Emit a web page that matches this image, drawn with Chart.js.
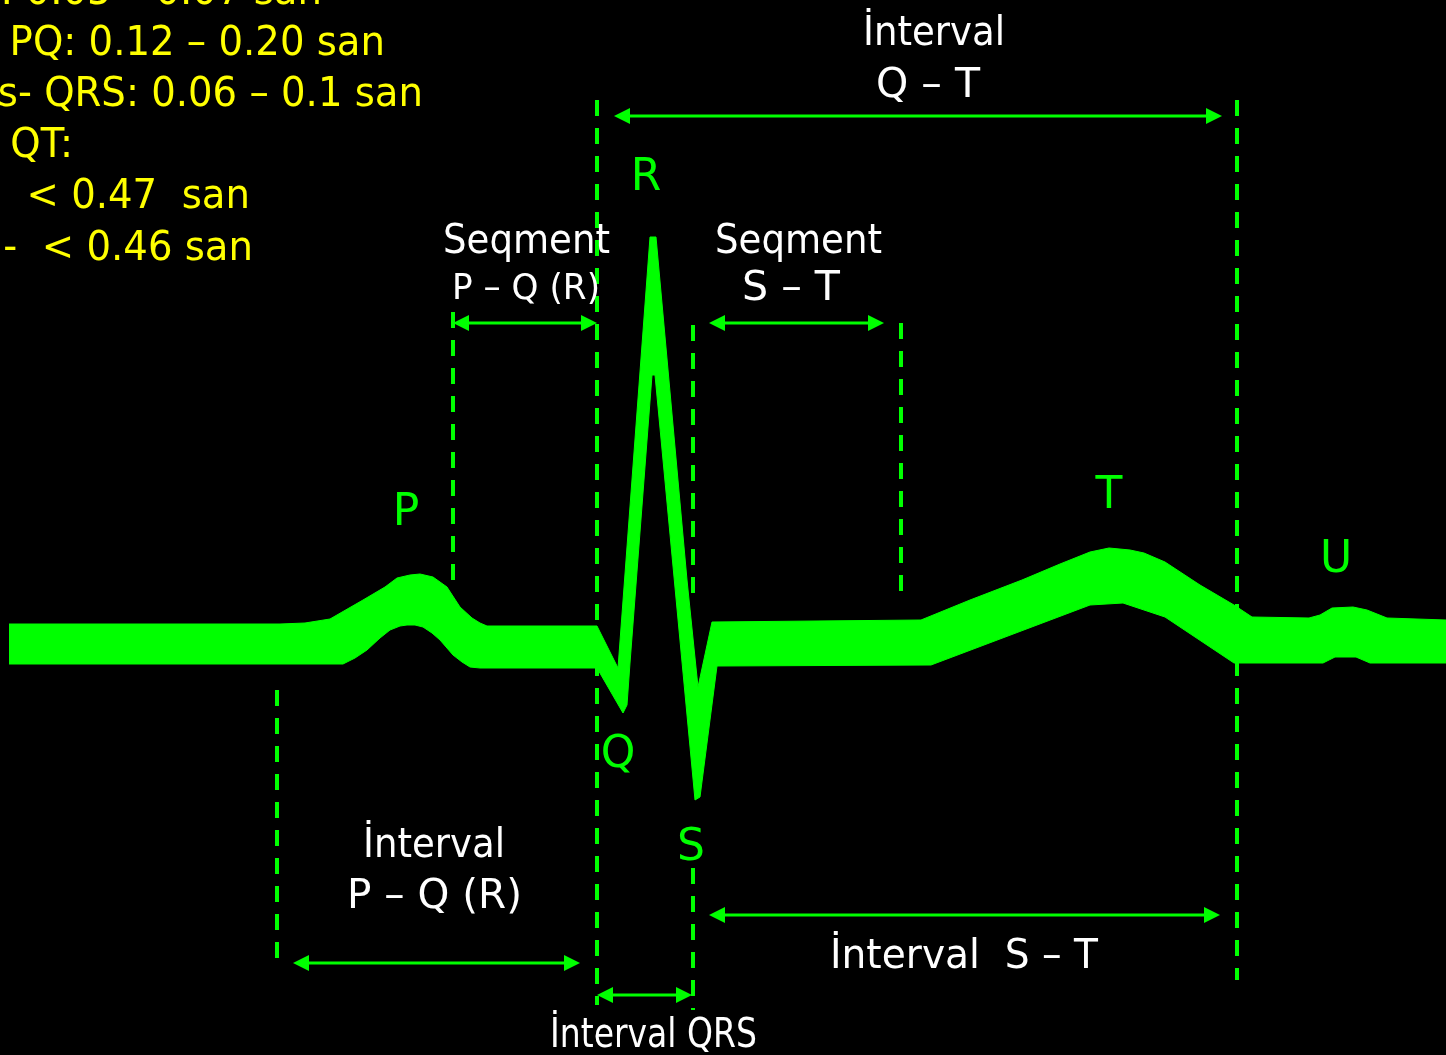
<!DOCTYPE html>
<html lang="az">
<head>
  <meta charset="UTF-8">
  <title>EKQ: dişlər, seqmentlər, intervallar</title>
  <script src="https://cdn.jsdelivr.net/npm/chart.js"></script>
  <style>
    html, body {
      margin: 0;
      padding: 0;
      background: #000;
      overflow: hidden;
    }

    canvas {
      display: block;
    }
  </style>
</head>

<body>
  <canvas id="ecg" width="1446" height="1055"></canvas>

  <script>
    // ECG trace is a thick band: its upper and lower outline (time units, depth units)
    const upperX = [9, 280, 305, 330, 363, 385, 397, 410, 420, 433, 447, 460, 472, 480, 487, 597, 618, 650, 656, 687, 698, 712,
      921, 970, 1022, 1060, 1090, 1109, 1130, 1144, 1165, 1200, 1234, 1252, 1309, 1320, 1332, 1353, 1367, 1387, 1446];
    const upperY = [624, 624, 623, 619, 600, 587, 578, 575, 574, 577, 587, 607, 618, 623, 626, 626, 668, 237, 237, 580, 687, 622,
      620, 600, 580, 564, 552, 548, 550, 553, 562, 585, 605, 617, 618, 615, 608, 607, 610, 618, 620];
    const lowerX = [9, 280, 343, 355, 367, 380, 390, 400, 407, 415, 423, 432, 440, 453, 462, 470, 480, 597, 623, 627, 630, 652, 655,
      695, 700, 717, 931, 1090, 1123, 1165, 1234, 1323, 1335, 1356, 1370, 1446];
    const lowerY = [664, 664, 664, 658, 650, 638, 630, 626, 625, 625, 627, 633, 640, 655, 662, 667, 668, 668, 713, 705, 663, 375, 375,
      800, 797, 666, 665, 605, 603, 617, 663, 663, 657, 657, 663, 663];

    // dashed boundaries of the waves
    const guideX = [277, 453, 597, 693, 693, 901, 1237];
    const guideFrom = [690, 312, 100, 325, 868, 323, 100];
    const guideTo = [970, 590, 1005, 602, 1010, 603, 980];

    // double arrows for the intervals / segments
    const arrowY = [116, 323, 323, 963, 915, 995];
    const arrowFrom = [614, 453, 709, 293, 709, 597];
    const arrowTo = [1222, 597, 884, 580, 1220, 692];

    // wave names
    const waveNames = ['P', 'Q', 'R', 'S', 'T', 'U'];
    const waveX = [406, 618, 646, 691, 1109, 1336];
    const waveY = [525, 767, 190, 860, 508, 572];

    // white captions (left edge, baseline, width)
    const captions = ['İnterval', 'Q – T', 'Seqment', 'P – Q (R)', 'Seqment', 'S – T', 'İnterval', 'P – Q (R)', 'İnterval  S – T', 'İnterval QRS'];
    const captionX = [863, 876, 443, 452, 715, 742, 363, 347, 830, 550];
    const captionY = [45, 97, 253, 299, 253, 300, 857, 908, 968, 1047];
    const captionW = [142, 104, 167, 148, 167, 98, 142, 175, 268, 207];
    const captionSize = [41, 41, 41, 36, 41, 41, 41, 41, 41, 41];

    // yellow norms, top left (right edge, baseline)
    const norms = ['P: 0.05 – 0.07 san', 'PQ: 0.12 – 0.20 san', 's- QRS: 0.06 – 0.1 san', 'QT:', '< 0.47  san', 'n-  < 0.46 san'];
    const normRight = [322, 385, 423, 73, 250, 253];
    const normY = [4, 55, 106, 157, 208, 260];

    const GREEN = '#00ff00';
    const FONT = '"DejaVu Sans", Verdana, sans-serif';

    const toPts = (xs, ys) => xs.map((x, i) => ({ x: x, y: ys[i] }));

    function squeezed(ctx, str, px, py, size, k, align) {
      ctx.font = size + 'px ' + FONT;
      ctx.save();
      ctx.translate(px, py);
      ctx.scale(k, 1);
      ctx.textAlign = align;
      ctx.fillText(str, 0, 0);
      ctx.restore();
    }

    function head(ctx, tipX, py, dir) {
      ctx.beginPath();
      ctx.moveTo(tipX, py);
      ctx.lineTo(tipX + dir * 16, py - 8);
      ctx.lineTo(tipX + dir * 16, py + 8);
      ctx.closePath();
      ctx.fill();
    }

    const overlay = {
      id: 'overlay',
      afterDatasetsDraw(chart) {
        const { ctx, scales: { x, y } } = chart;
        ctx.save();
        ctx.textBaseline = 'alphabetic';

        // arrows
        ctx.strokeStyle = GREEN;
        ctx.fillStyle = GREEN;
        ctx.lineWidth = 3;
        arrowY.forEach((v, i) => {
          const py = y.getPixelForValue(v);
          const a = x.getPixelForValue(arrowFrom[i]);
          const b = x.getPixelForValue(arrowTo[i]);
          ctx.beginPath();
          ctx.moveTo(a + 10, py);
          ctx.lineTo(b - 10, py);
          ctx.stroke();
          head(ctx, a, py, 1);
          head(ctx, b, py, -1);
        });

        // wave letters
        waveNames.forEach((t, i) => {
          squeezed(ctx, t, x.getPixelForValue(waveX[i]), y.getPixelForValue(waveY[i]), 44, 1, 'center');
        });

        // captions
        ctx.fillStyle = '#ffffff';
        captions.forEach((t, i) => {
          ctx.font = captionSize[i] + 'px ' + FONT;
          const k = captionW[i] / ctx.measureText(t).width;
          squeezed(ctx, t, x.getPixelForValue(captionX[i]), y.getPixelForValue(captionY[i]), captionSize[i], k, 'left');
        });

        // norms
        ctx.fillStyle = '#ffff00';
        norms.forEach((t, i) => {
          squeezed(ctx, t, x.getPixelForValue(normRight[i]), y.getPixelForValue(normY[i]), 41, 0.942, 'right');
        });

        ctx.restore();
      }
    };

    const datasets = [
      {
        label: 'upper',
        data: toPts(upperX, upperY),
        borderColor: GREEN,
        borderWidth: 1,
        pointRadius: 0,
        showLine: true,
        order: 1
      },
      {
        label: 'lower',
        data: toPts(lowerX, lowerY),
        borderColor: GREEN,
        borderWidth: 1,
        pointRadius: 0,
        showLine: true,
        fill: '-1',
        backgroundColor: GREEN,
        order: 1
      }
    ];

    guideX.forEach((gx, i) => {
      datasets.push({
        label: 'guide' + i,
        data: [{ x: gx, y: guideFrom[i] }, { x: gx, y: guideTo[i] }],
        borderColor: GREEN,
        borderWidth: 4,
        borderDash: [16, 12],
        pointRadius: 0,
        showLine: true,
        order: 2
      });
    });

    new Chart(document.getElementById('ecg'), {
      type: 'scatter',
      data: { datasets: datasets },
      options: {
        responsive: false,
        animation: false,
        layout: { padding: 0 },
        plugins: {
          legend: { display: false },
          tooltip: { enabled: false }
        },
        scales: {
          x: { type: 'linear', min: 0, max: 1446, display: false },
          y: { type: 'linear', min: 0, max: 1055, reverse: true, display: false }
        }
      },
      plugins: [overlay]
    });
  </script>
</body>

</html>
